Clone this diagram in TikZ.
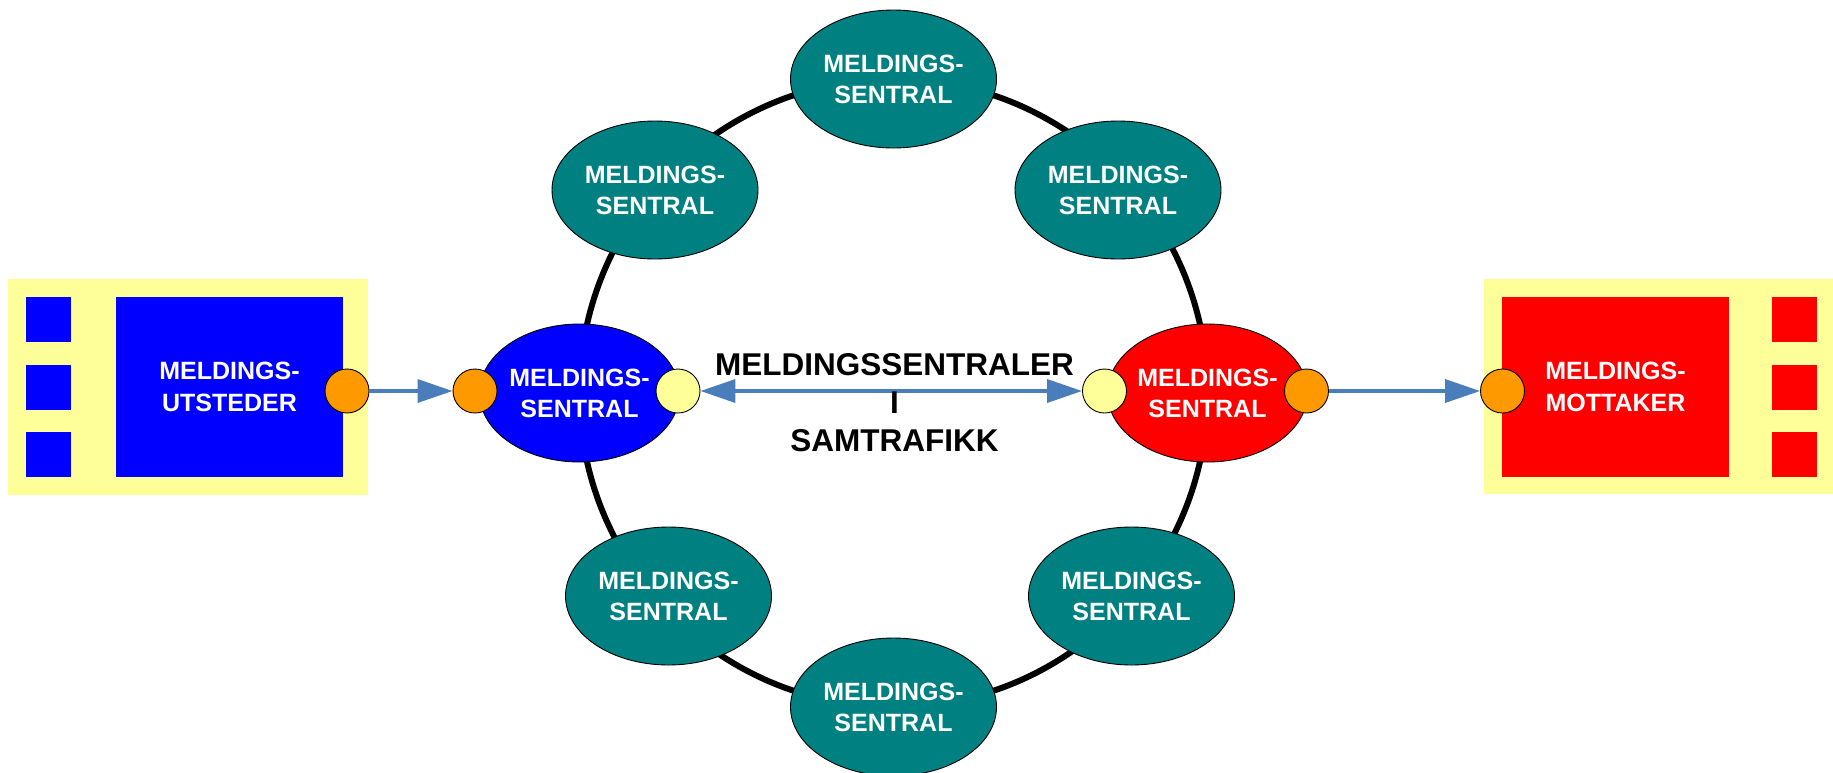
\documentclass[tikz,border=0pt]{standalone}
\usepackage{fontspec}
\setmainfont{Liberation Sans}
\usetikzlibrary{shapes.geometric,arrows.meta}
\definecolor{tealc}{RGB}{0,128,128}
\definecolor{paleyel}{RGB}{255,255,153}
\definecolor{orng}{RGB}{255,153,0}
\definecolor{arrblue}{RGB}{74,126,187}
\definecolor{pureblue}{RGB}{0,0,255}
\definecolor{purered}{RGB}{255,0,0}
\begin{document}
\begin{tikzpicture}[x=1pt,y=-1pt,
  central/.style={ellipse, draw=black, line width=0.9pt, minimum width=206pt, minimum height=138pt,
    inner sep=0pt, text=white, font=\fontsize{25}{31}\selectfont\bfseries, align=center},
  bigbox/.style={rectangle, inner sep=0pt, minimum width=227pt, minimum height=180pt,
    text=white, font=\fontsize{25}{31.5}\selectfont\bfseries, align=center},
  port/.style={circle, draw=black, line width=0.9pt, minimum size=44pt, inner sep=0pt},
  arr/.style={draw=arrblue, line width=3.5pt, -{Triangle[length=35pt,width=23pt]}},
  darr/.style={draw=arrblue, line width=3.5pt, {Triangle[length=35pt,width=23pt]}-{Triangle[length=35pt,width=23pt]}},
  ringline/.style={line width=6pt, draw=black}
]
\useasboundingbox (0,0) rectangle (1833,772);
% ring
\coordinate (rc) at (893.5,393);
\draw[ringline] (rc) circle[radius=314pt];
% exchanges
\node[central, fill=tealc] (t1) at (893.5,79) {MELDINGS-\\SENTRAL};
\node[central, fill=tealc] (t2) at (655,190) {MELDINGS-\\SENTRAL};
\node[central, fill=tealc] (t3) at (1118,190) {MELDINGS-\\SENTRAL};
\node[central, fill=tealc] (b1) at (668.5,596) {MELDINGS-\\SENTRAL};
\node[central, fill=tealc] (b2) at (1131.5,596) {MELDINGS-\\SENTRAL};
\node[central, fill=tealc] (b3) at (893.5,707) {MELDINGS-\\SENTRAL};
\node[central, fill=pureblue, minimum width=200pt] (cb) at (579.5,393) {MELDINGS-\\SENTRAL};
\node[central, fill=purered, minimum width=200pt] (cr) at (1207.5,393) {MELDINGS-\\SENTRAL};
% sender
\fill[paleyel] (8,279) rectangle (368,495);
\fill[pureblue] (26,297) rectangle (71,342);
\fill[pureblue] (26,365) rectangle (71,410);
\fill[pureblue] (26,432) rectangle (71,477);
\node[bigbox, fill=pureblue] (snd) at (229.5,387) {MELDINGS-\\UTSTEDER};
% receiver
\fill[paleyel] (1484,279) rectangle (1833,494);
\fill[purered] (1772,297) rectangle (1817,342);
\fill[purered] (1772,365) rectangle (1817,410);
\fill[purered] (1772,432) rectangle (1817,477);
\node[bigbox, fill=purered] (rcv) at (1615.5,387) {MELDINGS-\\MOTTAKER};
% ports
\node[port, fill=orng] (ps) at (347,391) {};
\node[port, fill=orng] (pbin) at (475,391) {};
\node[port, fill=paleyel] (pbout) at (678,391) {};
\node[port, fill=paleyel] (prin) at (1104.5,391) {};
\node[port, fill=orng] (prout) at (1306.5,391) {};
\node[port, fill=orng] (pm) at (1502.5,391) {};
% arrows
\draw[arr] (ps) -- (pbin);
\draw[darr] (pbout) -- (prin);
\draw[arr] (prout) -- (pm);
% label
\node[inner sep=0pt, align=center, font=\fontsize{31.5}{38}\selectfont\bfseries] (lbl) at (894.5,402.5)
  {MELDINGSSENTRALER\\I\\SAMTRAFIKK};
\end{tikzpicture}
\end{document}
